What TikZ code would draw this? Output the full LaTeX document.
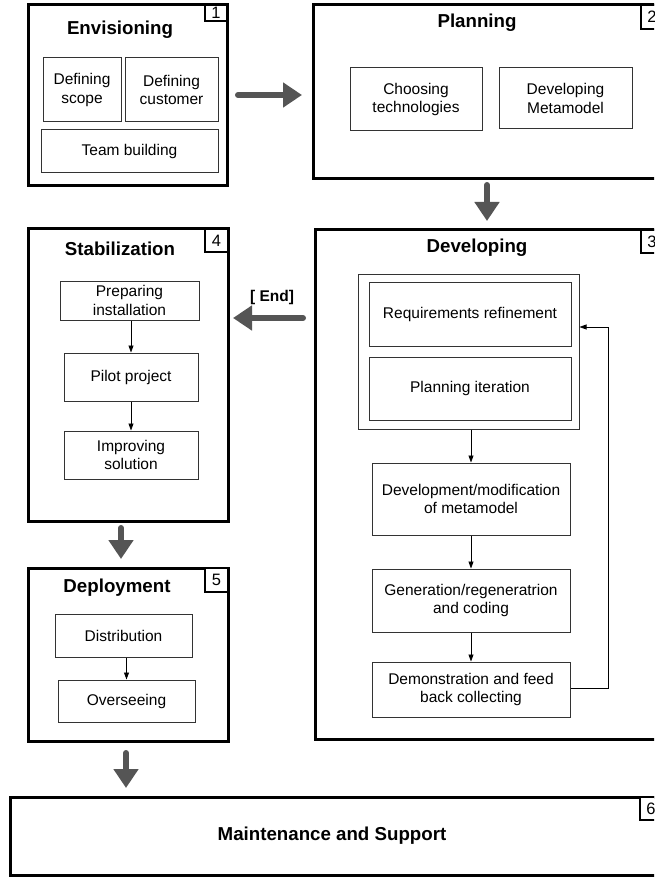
\documentclass[tikz,border=0pt]{standalone}
\usepackage{fontspec}
\setmainfont{Liberation Sans}
\usetikzlibrary{arrows.meta}
\definecolor{arrowgray}{HTML}{555555}
\definecolor{linegray}{HTML}{333333}
\tikzset{
  bigbox/.style={draw=black, line width=3pt, rectangle, inner sep=0pt},
  numbox/.style={draw=black, line width=1.3pt, rectangle, inner sep=0pt, fill=white, font=\fontsize{16.5}{18}\selectfont},
  subbox/.style={draw=linegray, line width=1pt, rectangle, inner sep=0pt, align=center, font=\fontsize{15.5}{18.5}\selectfont},
  grpbox/.style={draw=linegray, line width=1pt, rectangle, inner sep=0pt},
  titletext/.style={font=\bfseries\fontsize{18.7}{20}\selectfont, inner sep=0pt},
  bigarrow/.style={draw=arrowgray, line width=6pt, line cap=round, -{Triangle[length=19pt,width=24pt]}},
  smallarrow/.style={draw=black, line width=0.8pt, -{Triangle[length=7pt,width=5pt]}},
}
\begin{document}
\begin{tikzpicture}[x=1pt,y=-1pt]
\useasboundingbox (0,0) rectangle (654,877);
\clip (0,0) rectangle (654,877);
\fill[white] (0,0) rectangle (654,877);

% Box 1 Envisioning
\node[bigbox, minimum width=199pt, minimum height=181pt] (b1) at (127.5,95.5) {};
\node[numbox, minimum width=22pt, minimum height=16pt] (n1) at (216,13) {1};
\node[titletext] (t1) at (120,30) {Envisioning};
\node[subbox, minimum width=78pt, minimum height=64pt] (scope) at (82,90) {Defining\\scope};
\node[subbox, minimum width=93pt, minimum height=64pt] (cust) at (171.5,90) {Defining\\customer};
\node[subbox, minimum width=177pt, minimum height=43pt] (team) at (129.5,151.5) {Team building};

% Box 2 Planning
\node[bigbox, minimum width=352pt, minimum height=174pt] (b2) at (489,92) {};
\node[numbox, minimum width=22pt, minimum height=24pt] (n2) at (652,17) {2};
\node[titletext] (t2) at (477,23) {Planning};
\node[subbox, minimum width=132pt, minimum height=63pt] (choose) at (416,99.5) {Choosing\\technologies};
\node[subbox, minimum width=133pt, minimum height=61pt] (meta) at (565.5,98.5) {Developing\\Metamodel};

% Box 3 Developing
\node[bigbox, minimum width=350pt, minimum height=509pt] (b3) at (490,484.5) {};
\node[numbox, minimum width=22pt, minimum height=23pt] (n3) at (652,241.5) {3};
\node[titletext] (t3) at (477,248) {Developing};
\node[grpbox, minimum width=221pt, minimum height=155pt] (grp) at (468.5,351.5) {};
\node[subbox, minimum width=202pt, minimum height=64pt] (req) at (470,314) {Requirements refinement};
\node[subbox, minimum width=202pt, minimum height=63pt] (plan) at (470,388.5) {Planning iteration};
\node[subbox, minimum width=198pt, minimum height=72pt] (devmod) at (471,499) {Development/modification\\of metamodel};
\node[subbox, minimum width=198pt, minimum height=63pt] (gen) at (471,600.5) {Generation/regeneratrion\\and coding};
\node[subbox, minimum width=198pt, minimum height=55pt] (demo) at (471,689.5) {Demonstration and feed\\back collecting};
\coordinate (fbx) at (608,688);
\coordinate (fbtop) at (608,327);

% Box 4 Stabilization
\node[bigbox, minimum width=200pt, minimum height=292pt] (b4) at (128,375) {};
\node[numbox, minimum width=23pt, minimum height=23pt] (n4) at (216.5,240.5) {4};
\node[titletext] (t4) at (120,249) {Stabilization};
\node[subbox, minimum width=139pt, minimum height=39pt] (prep) at (129.5,300.5) {Preparing\\installation};
\node[subbox, minimum width=134pt, minimum height=48pt] (pilot) at (131,377) {Pilot project};
\node[subbox, minimum width=134pt, minimum height=48pt] (impr) at (131,455) {Improving\\solution};

% Box 5 Deployment
\node[bigbox, minimum width=200pt, minimum height=173pt] (b5) at (128,654.5) {};
\node[numbox, minimum width=23pt, minimum height=24pt] (n5) at (216.5,580) {5};
\node[titletext] (t5) at (117,588) {Deployment};
\node[subbox, minimum width=137pt, minimum height=43pt] (distr) at (123.5,635.5) {Distribution};
\node[subbox, minimum width=137pt, minimum height=42pt] (overs) at (126.5,701) {Overseeing};

% Box 6 Maintenance
\node[bigbox, minimum width=655pt, minimum height=78pt] (b6) at (337.5,836) {};
\node[numbox, minimum width=22pt, minimum height=23pt] (n6) at (651,808.5) {6};
\node[titletext] (t6) at (332,836) {Maintenance and Support};

% Big arrows
\coordinate (a12s) at (238,95);
\coordinate (a12e) at (302,95);
\draw[bigarrow] (a12s) -- (a12e);
\coordinate (a23s) at (487,185);
\coordinate (a23e) at (487,221);
\draw[bigarrow] (a23s) -- (a23e);
\coordinate (a34s) at (303,318);
\coordinate (a34e) at (233,318);
\draw[bigarrow] (a34s) -- (a34e);
\node[font=\bfseries\fontsize{15.5}{17}\selectfont, inner sep=0pt] (endlbl) at (272,297) {[ End]};
\coordinate (a45s) at (121,528);
\coordinate (a45e) at (121,559);
\draw[bigarrow] (a45s) -- (a45e);
\coordinate (a56s) at (126,753);
\coordinate (a56e) at (126,788);
\draw[bigarrow] (a56s) -- (a56e);

% Small arrows
\draw[smallarrow] (prep.south -| pilot.north) -- (pilot.north);
\draw[smallarrow] (pilot.south) -- (impr.north);
\draw[smallarrow] (distr.south -| overs.north) -- (overs.north);
\draw[smallarrow] (grp.south -| devmod.north) -- (devmod.north);
\draw[smallarrow] (devmod.south) -- (gen.north);
\draw[smallarrow] (gen.south) -- (demo.north);
\draw[smallarrow] (demo.east |- fbx) -- (fbx) -- (fbtop) -- (grp.east |- fbtop);
\end{tikzpicture}
\end{document}
